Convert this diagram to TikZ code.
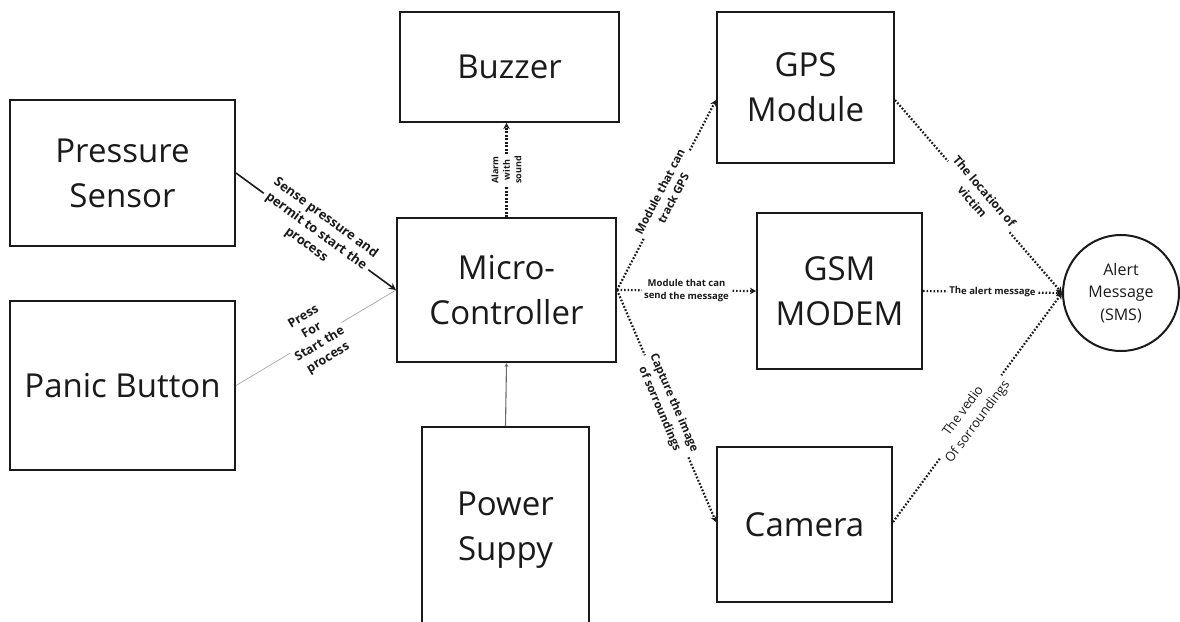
\documentclass[tikz,border=0pt]{standalone}
\usepackage{fontspec}
\setmainfont{Open Sans}
\usetikzlibrary{arrows.meta}
\definecolor{ink}{HTML}{1A1A1A}
\begin{document}
\begin{tikzpicture}[x=1pt,y=-1pt,
  block/.style={draw=ink, line width=2pt, inner sep=0pt, align=center,
    text=ink, font=\fontsize{33}{45}\selectfont},
  flow/.style={ink, line width=2.2pt, dash pattern=on 1.7pt off 1.8pt,
    -{Stealth[length=6pt,width=6.5pt]}},
  tag/.style={fill=white, align=center, inner sep=2pt, text=ink, sloped},
]
\clip (0,0) rectangle (1180,621);
\fill[white] (0,0) rectangle (1180,621);

% blocks
\node[block, minimum width=225pt, minimum height=146pt] (pressure) at (122.5,173) {Pressure\\Sensor};
\node[block, minimum width=225pt, minimum height=169pt] (panic) at (122.5,385.5) {Panic Button};
\node[block, minimum width=219pt, minimum height=110pt] (buzzer) at (509.5,67) {Buzzer};
\node[block, minimum width=219pt, minimum height=144pt] (micro) at (506.5,290) {Micro-\\Controller};
\node[block, minimum width=167pt, minimum height=206pt] (power) at (505.5,530) {Power\\Suppy};
\node[block, minimum width=177pt, minimum height=151pt] (gps) at (805.5,87.5) {GPS\\Module};
\node[block, minimum width=165pt, minimum height=156pt] (gsm) at (839.5,291) {GSM\\MODEM};
\node[block, minimum width=175pt, minimum height=155pt] (camera) at (804.5,524.5) {Camera};
\node[draw=ink, line width=2pt, circle, minimum size=116pt, inner sep=0pt, align=center,
  text=ink, font=\fontsize{16}{22.5}\selectfont] (sms) at (1121,293) {Alert\\Message\\(SMS)};

% inputs to the controller
\draw[ink, line width=1.6pt, -{Stealth[length=7pt,width=7pt]}] (pressure.east) -- (micro.west)
  node[tag, midway, font=\bfseries\fontsize{13}{16.5}\selectfont] {Sense pressure and\\permit to start the\\process};
\draw[gray!70, line width=0.7pt] (panic.east) -- (micro.west)
  node[tag, midway, font=\bfseries\fontsize{12.5}{16}\selectfont] {Press\\For\\Start the\\process};
\draw[gray!85!black, line width=1.1pt, -{Stealth[length=4pt,width=4pt]}] (power.north) -- (micro.south);

% outputs of the controller
\draw[flow] (micro.north) -- (micro.north |- buzzer.south)
  node[tag, midway, font=\bfseries\fontsize{9}{11.5}\selectfont] {Alarm\\with\\sound};
\draw[flow] (micro.east) -- ([yshift=-12.5pt]gps.west)
  node[tag, midway, font=\bfseries\fontsize{11.5}{15}\selectfont] {Module that can\\track GPS};
\draw[flow] (micro.east) -- (gsm.west)
  node[tag, midway, font=\bfseries\fontsize{9.5}{12.5}\selectfont] {Module that can\\send the message};
\draw[flow] (micro.east) -- ([yshift=2.5pt]camera.west)
  node[tag, midway, font=\bfseries\fontsize{11.5}{15.5}\selectfont] {Capture the image\\of sorroundings};

% everything ends in the alert
\draw[flow] ([yshift=-12.5pt]gps.east) -- (sms.west)
  node[tag, midway, font=\bfseries\fontsize{12}{16}\selectfont] {The location of\\victim};
\draw[flow] (gsm.east) -- (sms.west)
  node[tag, midway, font=\bfseries\fontsize{9.5}{12}\selectfont] {The alert message};
\draw[flow] ([yshift=2.5pt]camera.east) -- (sms.west)
  node[tag, pos=0.46, font=\fontsize{13}{18}\selectfont] {The vedio\\Of sorroundings};
\end{tikzpicture}
\end{document}
